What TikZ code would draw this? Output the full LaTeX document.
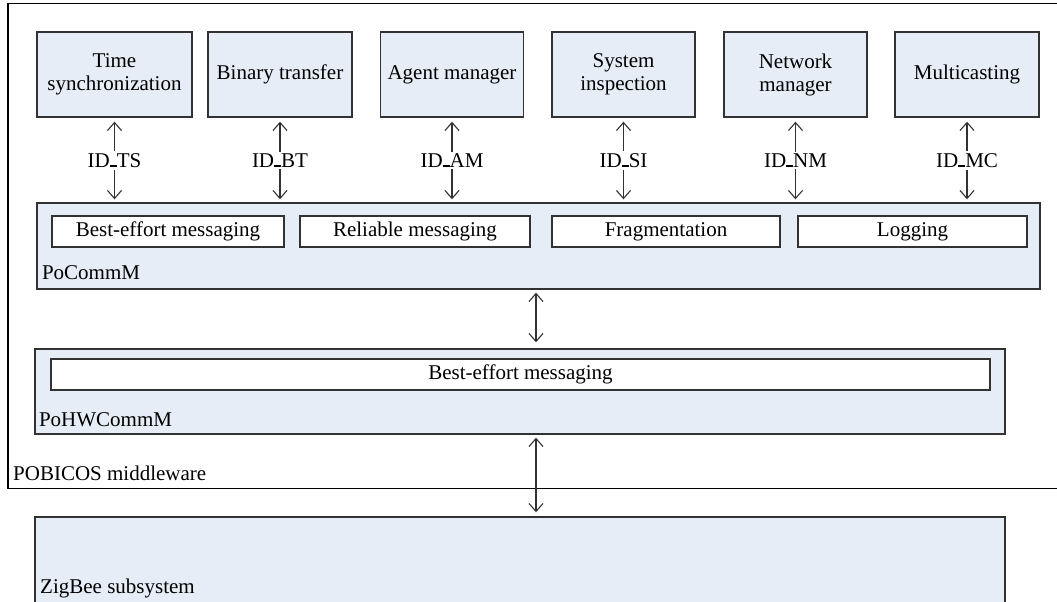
\documentclass[tikz,border=0pt]{standalone}
\usepackage{fontspec}
\setmainfont{Liberation Serif}
\usetikzlibrary{arrows.meta}

\definecolor{layerfill}{RGB}{230,237,246}
\definecolor{edgegray}{RGB}{50,50,50}

% short baseline dash used inside the message ids
\newcommand\iddash{\rule[0.6pt]{7pt}{1.6pt}}

\tikzset{
  svcbox/.style={draw=edgegray,fill=layerfill,line width=1.4pt,minimum height=85pt,
    align=center,inner sep=2pt},
  layerbox/.style={draw=edgegray,fill=layerfill,line width=1.4pt,inner sep=0pt},
  subbox/.style={draw=edgegray,fill=white,line width=1.4pt,minimum height=31pt,inner sep=0pt},
  tag/.style={anchor=base west,inner sep=0pt},
  link/.style={{Straight Barb[length=8pt,width=14pt]}-{Straight Barb[length=8pt,width=14pt]},
    draw=edgegray,line width=1.1pt},
  idlabel/.style={fill=white,inner sep=2pt},
}

\begin{document}
\begin{tikzpicture}[x=1pt,y=-1pt,font=\fontsize{21}{23}\selectfont]
  \clip (0,0) rectangle (1057,602);

  % ---------------- POBICOS middleware frame (open to the right) ----------------
  \draw[black,line width=1.5pt] (1070,3.5) -- (8,3.5) -- (8,488.5) -- (1070,488.5);
  \node[tag] (mwlabel) at (13,480) {POBICOS middleware};

  % ---------------- service modules ----------------
  \foreach \name/\cx/\w/\txt in {ts/114.5/155/{Time\\synchronization},
                                 bt/280/144/{Binary transfer},
                                 am/452/143/{Agent manager},
                                 si/623.5/143/{System\\inspection},
                                 nm/795.5/143/{Network\\manager},
                                 mc/967/144/{Multicasting}}
    \node[svcbox,minimum width=\w pt] (\name) at (\cx,74.5) {\txt};

  % ---------------- PoCommM layer ----------------
  \node[layerbox,minimum width=1003pt,minimum height=86pt] (pocomm) at (538.5,246) {};
  \foreach \name/\cx/\w/\txt in {bem/168/232/{Best-effort messaging},
                                 rm/415/230/{Reliable messaging},
                                 frag/666/228/{Fragmentation},
                                 log/912.5/229/{Logging}}
    \node[subbox,minimum width=\w pt] (\name) at (\cx,231.5) {\txt};
  \node[tag] (pocommlabel) at ([xshift=5.5pt,yshift=10pt]pocomm.south west) {PoCommM};

  % service <-> PoCommM, one message id each
  \foreach \name/\id in {ts/TS,bt/BT,am/AM,si/SI,nm/NM,mc/MC}
    \draw[link] ([yshift=-4pt]\name.south) -- node[idlabel] {ID\iddash\id}
      ([yshift=3pt]\name.south |- pocomm.north);

  % ---------------- PoHWCommM layer ----------------
  \node[layerbox,minimum width=970pt,minimum height=85pt] (pohw) at (520,391.5) {};
  \node[subbox,minimum width=939pt] (hwbem) at (520.5,374.5) {Best-effort messaging};
  \node[tag] (pohwlabel) at ([xshift=4.5pt,yshift=8pt]pohw.south west) {PoHWCommM};

  % ---------------- ZigBee subsystem ----------------
  \node[layerbox,minimum width=970pt,minimum height=130pt] (zigbee) at (520,582) {};
  \node[tag] (zblabel) at (40,593) {ZigBee subsystem};

  % vertical bus between the layers
  \coordinate (bus) at (536,0);
  \draw[link] ([yshift=-3pt]pocomm.south -| bus) -- ([yshift=6pt]pohw.north -| bus);
  \draw[link] ([yshift=-3pt]pohw.south -| bus) -- ([yshift=4pt]zigbee.north -| bus);
\end{tikzpicture}
\end{document}
